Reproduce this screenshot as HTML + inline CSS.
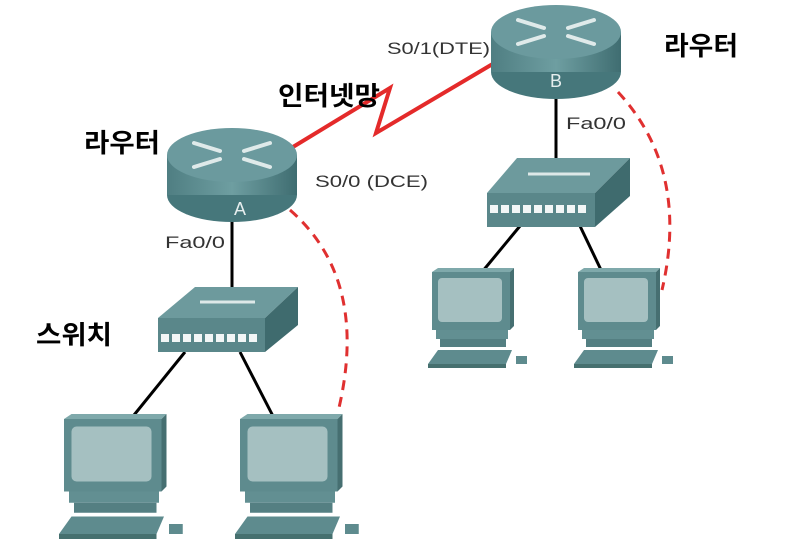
<!DOCTYPE html>
<html><head><meta charset="utf-8"><style>
html,body{margin:0;padding:0;background:#fff;width:794px;height:554px;overflow:hidden}
svg{display:block}
.k{font-family:"Liberation Sans","Noto Sans CJK KR",sans-serif;font-weight:bold;font-size:26px;fill:#000}
.l{font-family:"Liberation Sans",sans-serif;font-size:17px;fill:#333}
</style></head><body>
<svg width="794" height="554" viewBox="0 0 794 554" xmlns="http://www.w3.org/2000/svg">
<defs>
<linearGradient id="rb" x1="0" x2="1" y1="0" y2="0">
<stop offset="0" stop-color="#4f7e82"/><stop offset="0.5" stop-color="#6e9ea1"/><stop offset="1" stop-color="#3f6d71"/>
</linearGradient>
<g id="pc">
<polygon points="-4,96 6,82 80,82 74,96" fill="#5e8b8e"/>
<polygon points="-4,96 74,96 74,100 -4,100" fill="#46706f"/>
<rect x="84" y="88" width="11" height="8" fill="#5e8b8e"/>
<rect x="4" y="62" width="72" height="9" fill="#628f92"/>
<rect x="8" y="71" width="66" height="8" fill="#547f82"/>
<polygon points="0,4 6,0 82,0 78,4" fill="#7fa9ab"/>
<rect x="0" y="4" width="78" height="58" fill="#5e8b8e"/>
<polygon points="78,4 82,0 82,58 78,62" fill="#466f71"/>
<rect x="6" y="10" width="64" height="44" rx="4" fill="#a5c0c1"/>
</g>
<g id="rt">
<ellipse cx="0" cy="40" rx="65" ry="27" fill="#46777b"/>
<rect x="-65" y="0" width="130" height="40" fill="url(#rb)"/>
<ellipse cx="0" cy="0" rx="65" ry="27" fill="#6b9a9e"/>
<g stroke="#dfeaea" stroke-width="4" stroke-linecap="round">
<line x1="-38" y1="-12" x2="-12" y2="-4"/><line x1="12" y1="4" x2="38" y2="12"/>
<line x1="38" y1="-12" x2="12" y2="-4"/><line x1="-12" y1="4" x2="-38" y2="12"/>
</g>
</g>
</defs>
<g stroke="#000" stroke-width="3">
<line x1="232" y1="220" x2="232" y2="292"/>
<line x1="185" y1="352" x2="130" y2="420"/>
<line x1="240" y1="352" x2="275" y2="420"/>
<line x1="556" y1="96" x2="556" y2="160"/>
<line x1="520" y1="226" x2="482" y2="272"/>
<line x1="580" y1="226" x2="602" y2="272"/>
</g>
<g stroke="#e03030" stroke-width="3" fill="none" stroke-dasharray="10,7">
<path d="M290,210 Q370,280 338,412"/>
<path d="M618,92 Q690,170 662,290"/>
</g>
<path d="M288,150 L390,88 L376,133 L496,62" stroke="#e42a2a" stroke-width="4" fill="none" stroke-linejoin="miter"/>
<g transform="translate(232,155)"><use href="#rt"/><text x="8" y="60" font-family="Liberation Sans,sans-serif" font-size="18" fill="#e6eeee" text-anchor="middle">A</text></g>
<g transform="translate(556,32)"><use href="#rt"/><text x="0" y="55" font-family="Liberation Sans,sans-serif" font-size="18" fill="#e6eeee" text-anchor="middle">B</text></g>
<polygon points="158,318 195,287 298,287 265,318" fill="#6d9a9d"/>
<polygon points="158,318 265,318 265,352 158,352" fill="#5a878a"/>
<polygon points="265,318 298,287 298,325 265,352" fill="#3f6b6e"/>
<line x1="200" y1="302" x2="255" y2="302" stroke="#dde8e8" stroke-width="3"/>
<g fill="#f2f6f6"><rect x="161" y="334" width="8" height="8"/><rect x="172" y="334" width="8" height="8"/><rect x="183" y="334" width="8" height="8"/><rect x="194" y="334" width="8" height="8"/><rect x="205" y="334" width="8" height="8"/><rect x="216" y="334" width="8" height="8"/><rect x="227" y="334" width="8" height="8"/><rect x="238" y="334" width="8" height="8"/><rect x="249" y="334" width="8" height="8"/></g>
<polygon points="487,193 517,158 630,158 595,193" fill="#6d9a9d"/>
<polygon points="487,193 595,193 595,227 487,227" fill="#5a878a"/>
<polygon points="595,193 630,158 630,196 595,227" fill="#3f6b6e"/>
<line x1="528" y1="174" x2="590" y2="174" stroke="#dde8e8" stroke-width="3"/>
<g fill="#f2f6f6"><rect x="490" y="205" width="8" height="8"/><rect x="501" y="205" width="8" height="8"/><rect x="512" y="205" width="8" height="8"/><rect x="523" y="205" width="8" height="8"/><rect x="534" y="205" width="8" height="8"/><rect x="545" y="205" width="8" height="8"/><rect x="556" y="205" width="8" height="8"/><rect x="567" y="205" width="8" height="8"/><rect x="578" y="205" width="8" height="8"/></g>
<g transform="translate(432,268)"><use href="#pc"/></g>
<g transform="translate(578,268)"><use href="#pc"/></g>
<g transform="translate(64,414) scale(1.25)"><use href="#pc"/></g>
<g transform="translate(240,414) scale(1.25)"><use href="#pc"/></g>
<text class="k" x="84" y="152" textLength="76" lengthAdjust="spacingAndGlyphs">라우터</text>
<text class="k" x="664" y="55" textLength="74" lengthAdjust="spacingAndGlyphs">라우터</text>
<text class="k" x="278" y="105" textLength="102" lengthAdjust="spacingAndGlyphs">인터넷망</text>
<text class="k" x="36" y="344" textLength="76" lengthAdjust="spacingAndGlyphs">스위치</text>
<text class="l" x="387" y="54" textLength="103" lengthAdjust="spacingAndGlyphs">S0/1(DTE)</text>
<text class="l" x="315" y="187" textLength="113" lengthAdjust="spacingAndGlyphs">S0/0 (DCE)</text>
<text class="l" x="165" y="248" textLength="60" lengthAdjust="spacingAndGlyphs">Fa0/0</text>
<text class="l" x="566" y="129" textLength="60" lengthAdjust="spacingAndGlyphs">Fa0/0</text>
</svg>
</body></html>
